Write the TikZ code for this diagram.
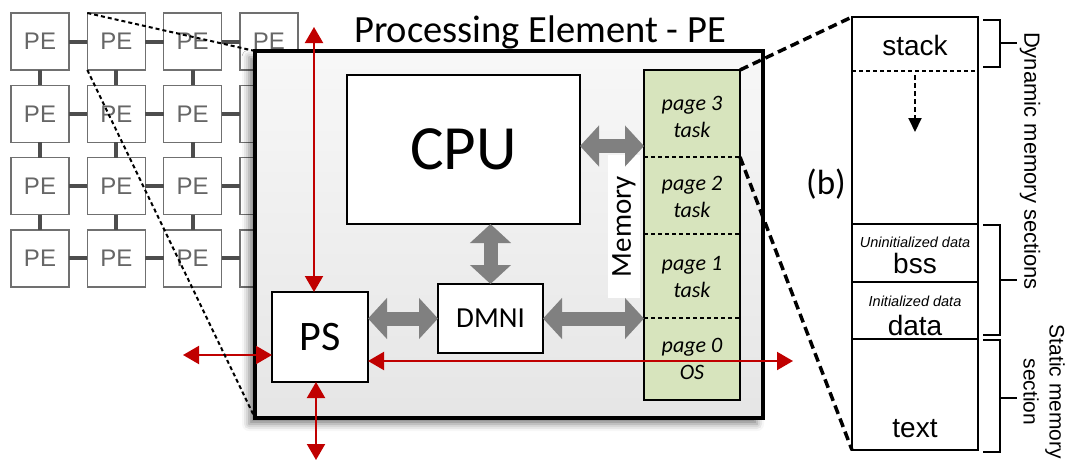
\documentclass[tikz,border=0pt]{standalone}
\usepackage{fontspec}
\setmainfont{Carlito}
\newfontfamily\arialfam{Liberation Sans}
\usetikzlibrary{arrows.meta,shadows.blur,calc}
\definecolor{gridline}{HTML}{4D4D4D}
\definecolor{gridbox}{HTML}{707070}
\definecolor{gridtext}{HTML}{666666}
\definecolor{memgreen}{HTML}{D7E4BD}
\definecolor{busgray}{HTML}{808080}
\definecolor{linkred}{HTML}{C00000}
\newcommand{\sz}[1]{\fontsize{#1}{#1}\selectfont}
\begin{document}
\begin{tikzpicture}[x=1pt,y=-1pt,
  pe/.style={draw=gridbox,line width=1.3pt,fill=white,minimum width=58pt,minimum height=57pt,
    inner sep=0pt,outer sep=0pt,text=gridtext,font=\arialfam\sz{24}},
  mesh/.style={draw=gridline,line width=4pt},
  unit/.style={draw=black,line width=2.5pt,fill=white,inner sep=0pt,outer sep=0pt},
  bus/.style={draw=busgray,line width=14pt,{Triangle[length=19pt,width=40pt]}-{Triangle[length=19pt,width=40pt]}},
  link/.style={draw=linkred,line width=2pt,{Triangle[length=16pt,width=18pt]}-{Triangle[length=16pt,width=18pt]}},
  pagediv/.style={draw=black,line width=1.5pt,dash pattern=on 4pt off 3pt},
  pagetext/.style={font=\itshape\fontsize{22}{27}\selectfont,align=center},
  zoomthin/.style={draw=black,line width=2pt,dash pattern=on 4pt off 3pt},
  zoomthick/.style={draw=black,line width=3.5pt,dash pattern=on 9pt off 5pt},
  segtext/.style={font=\arialfam\sz{28},anchor=base,inner sep=0pt},
  segnote/.style={font=\arialfam\itshape\sz{14.5},inner sep=0pt},
  bracket/.style={draw=black,line width=2pt},
  sidetext/.style={font=\arialfam\sz{22},rotate=-90,align=center},
]
\useasboundingbox (0,0) rectangle (1066,463);

% 4x4 mesh of processing elements
\foreach \c in {1,...,4}{
  \foreach \r in {1,...,4}{
    \node[pe] (g\c\r) at ({40+76.3*(\c-1)},{41.5+72.3*(\r-1)}) {PE};
  }
}
\foreach \r in {1,...,4}{
  \foreach \c/\n in {1/2,2/3,3/4}{
    \draw[mesh] (g\c\r.east) -- (g\n\r.west);
  }
}
\foreach \c in {1,...,4}{
  \foreach \r/\n in {1/2,2/3,3/4}{
    \draw[mesh] (g\c\r.south) -- (g\c\n.north);
  }
}

% enlarged processing element
\node[draw=black,line width=4pt,minimum width=508pt,minimum height=367pt,inner sep=0pt,outer sep=0pt,
  top color=white!97!black,bottom color=white!90!black,
  blur shadow={shadow xshift=-6pt,shadow yshift=-6pt,shadow blur radius=7pt,shadow opacity=50}]
  (pe) at (509,234.5) {};
\node[anchor=base,font=\sz{38.5}] (title) at (540,42) {Processing Element - PE};

% internal blocks
\node[unit,line width=2pt,minimum width=233pt,minimum height=149pt,font=\sz{63}] (cpu) at (463.5,149.5) {CPU};
\node[unit,minimum width=96pt,minimum height=90pt,font=\sz{42}] (ps) at (320,337) {PS};
\node[unit,minimum width=105pt,minimum height=69pt,font=\sz{29}] (dmni) at (490.5,318.5) {DMNI};

% memory with its pages
\node[fill=white,rotate=90,minimum width=143pt,minimum height=32pt,inner sep=0pt,font=\sz{29}] (memlabel) at (624,226.5) {Memory};
\node[draw=black,line width=2.5pt,fill=memgreen,minimum width=96pt,minimum height=330pt,inner sep=0pt,outer sep=0pt] (mem) at (692,235) {};
\foreach \d in {87,164,248}{
  \draw[pagediv] ($(mem.north west)+(0,\d)$) -- ($(mem.north east)+(0,\d)$);
}
\node[pagetext] (pg3) at (692,117) {page 3\\task};
\node[pagetext] (pg2) at (692,197) {page 2\\task};
\node[pagetext] (pg1) at (692,277) {page 1\\task};
\node[pagetext] (pg0) at (692,359) {page 0\\OS};

% internal buses
\draw[bus] ($(cpu.east)+(0,-3.5)$) -- ($(mem.west |- cpu.east)+(0,-3.5)$);
\draw[bus] (dmni.north) -- (dmni.north |- cpu.south);
\draw[bus] (ps.east |- dmni.west) -- (dmni.west);
\draw[bus] (dmni.east) -- (dmni.east -| mem.west);

% router links
\coordinate (lnkN) at (314,27);
\coordinate (lnkW) at (183,355);
\coordinate (lnkS) at (316,460);
\coordinate (lnkE) at (793,361);
\draw[link] (lnkN) -- (lnkN |- ps.north);
\draw[link] (lnkW) -- (lnkW -| ps.west);
\draw[link] (lnkS) -- (lnkS |- ps.south);
\draw[link] (lnkE) -- (lnkE -| ps.east);

% zoom lines from the mesh
\draw[zoomthin] (g21.north west) -- (pe.north west);
\draw[zoomthin] (g21.south west) -- (pe.south west);

% memory layout of a page
\node[font=\sz{35}] (blabel) at (826,184) {(b)};
\node[draw=black,line width=2pt,minimum width=126pt,minimum height=433pt,inner sep=0pt,outer sep=0pt,fill=white] (seg) at (915,233.5) {};
\draw[black,line width=1.5pt,dash pattern=on 4pt off 3pt] ($(seg.north west)+(0,54)$) -- ($(seg.north east)+(0,54)$);
\foreach \d in {207,265,322}{
  \draw[black,line width=2pt] ($(seg.north west)+(0,\d)$) -- ($(seg.north east)+(0,\d)$);
}
\coordinate (stk) at ($(seg.north)+(0,58)$);
\draw[black,line width=2pt,dash pattern=on 5pt off 3pt,-{Triangle[length=14pt,width=13pt]}] (stk) -- ++(0,57);
\node[segtext] (stack) at ($(seg.north)+(0,38)$) {stack};
\node[segnote] (bssnote) at ($(seg.north)+(0,225)$) {Uninitialized data};
\node[segtext] (bss) at ($(seg.north)+(0,256)$) {bss};
\node[segnote] (datanote) at ($(seg.north)+(0,284)$) {Initialized data};
\node[segtext] (data) at ($(seg.north)+(0,318)$) {data};
\node[segtext] (text) at ($(seg.north)+(0,420)$) {text};

\draw[zoomthick] (mem.north east) -- (seg.north west);
\draw[zoomthick] ($(mem.north east)+(0,87)$) -- (seg.south west);

% section brackets
\draw[bracket] (983,20) -- (1000,20) -- (1000,67) -- (983,67) (1000,43) -- (1017,43);
\draw[bracket] (983,225) -- (1000,225) -- (1000,335) -- (983,335) (1000,280) -- (1017,280);
\draw[bracket] (983,340) -- (1000,340) -- (1000,452) -- (983,452) (1000,398) -- (1017,398);
\node[sidetext] (dyn) at (1030,161) {Dynamic memory sections};
\node[sidetext,font=\arialfam\fontsize{21}{26}\selectfont] (stat) at (1044,392) {Static memory\\section};
\end{tikzpicture}
\end{document}
